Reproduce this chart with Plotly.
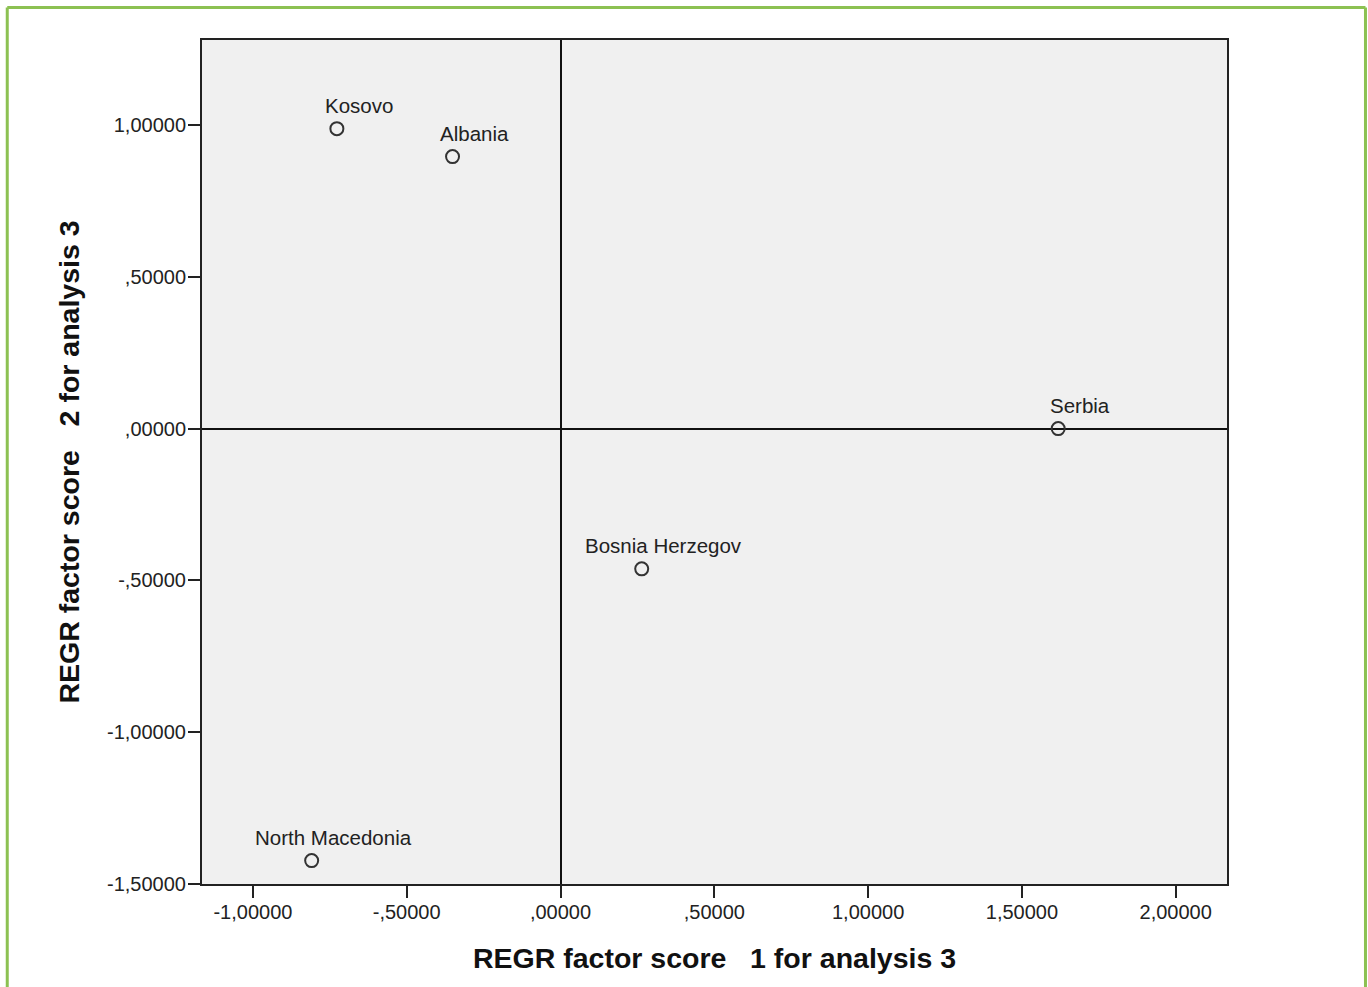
import plotly.graph_objects as go

countries = ["Kosovo", "Albania", "Serbia", "Bosnia Herzegov", "North Macedonia"]
factor1 = [-0.727, -0.351, 1.618, 0.264, -0.809]
factor2 = [0.988, 0.896, 0.000, -0.462, -1.423]

x_tickvals = [-1.0, -0.5, 0.0, 0.5, 1.0, 1.5, 2.0]
x_ticktext = ["-1,00000", "-,50000", ",00000", ",50000", "1,00000", "1,50000", "2,00000"]
y_tickvals = [1.0, 0.5, 0.0, -0.5, -1.0, -1.5]
y_ticktext = ["1,00000", ",50000", ",00000", "-,50000", "-1,00000", "-1,50000"]

x_title = "REGR factor score\u00a0\u00a0\u00a01 for analysis 3"
y_title = "REGR factor score\u00a0\u00a0\u00a02 for analysis 3"

FONT = "Arial, Liberation Sans, sans-serif"

fig = go.Figure()
fig.add_trace(go.Scatter(
    x=factor1, y=factor2, mode="markers",
    marker=dict(symbol="circle-open", size=13, color="#333333",
                line=dict(width=2, color="#333333")),
    hoverinfo="skip", showlegend=False,
))

for name, xv, yv in zip(countries, factor1, factor2):
    fig.add_annotation(x=xv, y=yv, text=name, showarrow=False,
                       xshift=22, yshift=23,
                       font=dict(family=FONT, size=20.5, color="#222222"))

axis_common = dict(
    showgrid=False, showline=True, mirror=True, linecolor="#222222", linewidth=2,
    ticks="outside", ticklen=12, tickwidth=2, tickcolor="#222222",
    zeroline=True, zerolinecolor="#111111", zerolinewidth=2,
    tickfont=dict(family=FONT, size=20, color="#222222"),
)

fig.update_xaxes(range=[-1.1655, 2.1668], tickvals=x_tickvals, ticktext=x_ticktext,
                 ticklabelstandoff=-3,
                 title=dict(text=x_title, standoff=26,
                            font=dict(family=FONT, size=28.5, color="#111111", weight="bold")),
                 **axis_common)
fig.update_yaxes(range=[-1.5, 1.280], tickvals=y_tickvals, ticktext=y_ticktext,
                 ticklabelstandoff=-2,
                 title=dict(text=y_title, standoff=19,
                            font=dict(family=FONT, size=28.5, color="#111111", weight="bold")),
                 **axis_common)

# green frame around the figure
green = "#8CC152"
fig.add_shape(type="line", xref="paper", yref="paper", x0=-0.19, x1=-0.19, y0=1.0385, y1=-0.2,
              line=dict(color=green, width=3))
fig.add_shape(type="line", xref="paper", yref="paper", x0=-0.19, x1=1.1351, y0=1.0385, y1=1.0385,
              line=dict(color=green, width=3))
fig.add_shape(type="line", xref="paper", yref="paper", x0=1.1351, x1=1.1351, y0=1.0385, y1=-0.2,
              line=dict(color=green, width=3))

fig.update_layout(
    width=1368, height=987,
    margin=dict(l=202, r=141, t=40, b=103),
    plot_bgcolor="#F0F0F0", paper_bgcolor="white",
    font=dict(family=FONT),
)

fig.write_html("out.html", config={"displayModeBar": False},
               post_script="document.body.style.margin='0px';document.body.style.overflow='hidden';")
